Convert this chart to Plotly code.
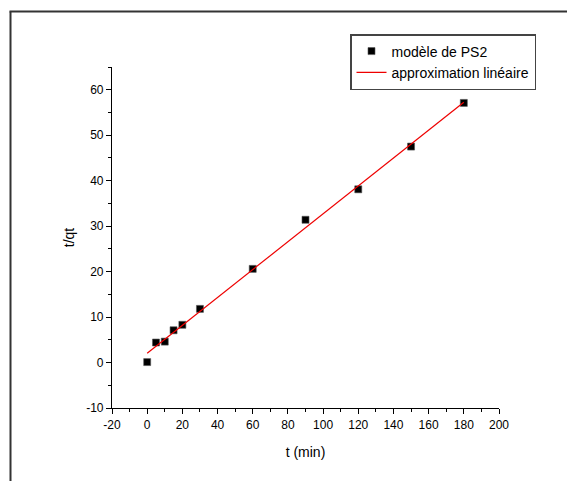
import numpy as np
import plotly.graph_objects as go

t_min = [0, 5, 10, 15, 20, 30, 60, 90, 120, 150, 180]
t_qt = [0.1, 4.4, 4.6, 7.1, 8.3, 11.8, 20.6, 31.4, 38.1, 47.5, 57.1]

x_tick_vals = [-20, 0, 20, 40, 60, 80, 100, 120, 140, 160, 180, 200]
x_tick_text = ["-20", "0", "20", "40", "60", "80", "100", "120", "140", "160", "180", "200"]
y_tick_vals = [-10, 0, 10, 20, 30, 40, 50, 60]
y_tick_text = ["-10", "0", "10", "20", "30", "40", "50", "60"]

slope, intercept = np.polyfit(t_min, t_qt, 1)
fit_x = [min(t_min), max(t_min)]
fit_y = [slope * v + intercept for v in fit_x]

W, H = 567, 481
L, R, T, B = 112, 499, 67, 408
FONT = "Liberation Sans, Arial"

fig = go.Figure()
fig.add_trace(go.Scatter(
    x=t_min, y=t_qt, mode="markers", name="modèle de PS2",
    marker=dict(symbol="square", size=7, color="black",
                line=dict(color="#555555", width=0.6)),
))
fig.add_trace(go.Scatter(
    x=fit_x, y=fit_y, mode="lines", name="approximation linéaire",
    line=dict(color="#ee0000", width=1.2),
))

axis_common = dict(
    showgrid=False, zeroline=False, showline=True, linecolor="black",
    linewidth=1.2, ticks="outside", ticklen=5, tickwidth=1.2,
    tickcolor="black", tickfont=dict(family=FONT, size=12, color="black"),
    mirror=False, tickmode="array",
)
fig.update_xaxes(
    range=[-20, 200], tickvals=x_tick_vals, ticktext=x_tick_text,
    minor=dict(ticks="outside", dtick=10, tick0=-20, ticklen=3, tickwidth=1.2, tickcolor="black"),
    title=dict(text="t (min)", font=dict(family=FONT, size=14, color="black"), standoff=16),
    **axis_common,
)
fig.update_yaxes(
    range=[-10, 65], tickvals=y_tick_vals, ticktext=y_tick_text,
    minor=dict(ticks="outside", dtick=5, tick0=-10, ticklen=3, tickwidth=1.2, tickcolor="black"),
    title=dict(text="t/qt", font=dict(family=FONT, size=14, color="black"), standoff=8),
    **axis_common,
)

pw, ph = R - L, B - T
def px(x):
    return (x - L) / pw
def py(y):
    return (B - y) / ph

fig.add_shape(type="line", xref="paper", yref="paper",
              x0=px(10.5), x1=px(10.5), y0=py(11.5), y1=py(490),
              line=dict(color="#333333", width=2))
fig.add_shape(type="line", xref="paper", yref="paper",
              x0=px(9.5), x1=px(580), y0=py(11.5), y1=py(11.5),
              line=dict(color="#333333", width=2))

fig.update_layout(
    width=W, height=H,
    margin=dict(l=L, r=W - R, t=T, b=H - B),
    paper_bgcolor="white", plot_bgcolor="white",
    font=dict(family=FONT, size=12, color="black"),
    legend=dict(
        x=px(350), y=py(34), xanchor="left", yanchor="top",
        bordercolor="#444444", borderwidth=1.5, bgcolor="white",
        font=dict(family=FONT, size=14, color="black"),
        itemwidth=30, tracegroupgap=0,
    ),
)

fig.write_html("out.html")
